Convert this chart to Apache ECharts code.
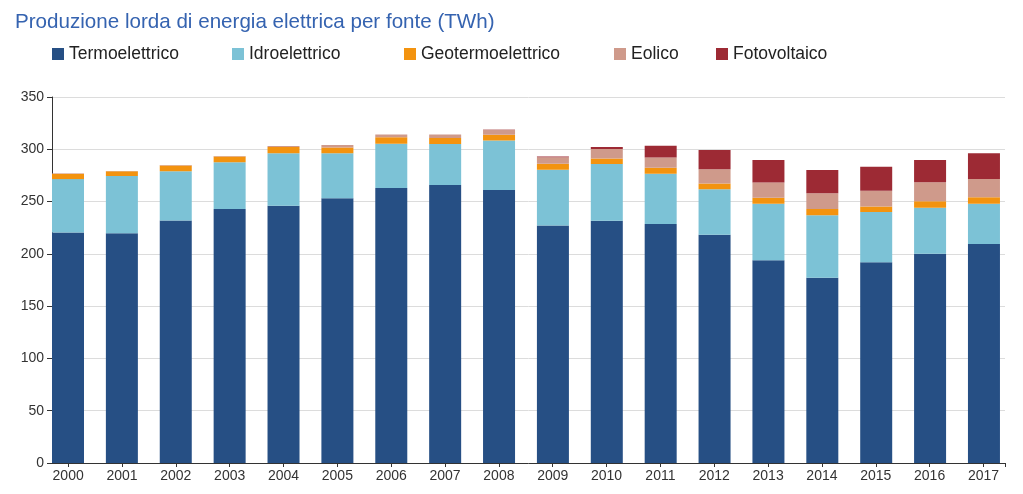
<!DOCTYPE html>
<html>
<head>
<meta charset="utf-8">
<script src="https://cdn.jsdelivr.net/npm/echarts@6/dist/echarts.min.js"></script>
<style>
html,body{margin:0;padding:0;background:#fff;}
#chart{width:1023px;height:494px;}
</style>
</head>
<body>
<div id="chart"></div>
<script>
const years = ['2000','2001','2002','2003','2004','2005','2006','2007','2008','2009','2010','2011','2012','2013','2014','2015','2016','2017'];
const termoelettrico = [220.5,219.6,232.0,242.8,246.0,253.1,262.9,265.8,261.0,227.2,231.6,228.5,218.3,193.8,177.2,191.9,200.1,209.4];
const idroelettrico  = [51.0,54.8,46.9,44.7,50.1,43.0,42.4,39.2,47.5,53.2,54.3,48.1,43.4,54.1,59.6,48.1,44.0,38.6];
const geotermoelettrico = [5.0,4.5,5.5,5.5,6.2,5.7,6.1,5.7,5.5,5.7,5.4,5.7,5.7,5.7,6.1,5.4,6.1,6.1];
const eolico = [0.5,0.3,0.5,0.5,0.8,2.2,2.8,3.5,4.8,6.3,8.9,9.9,13.4,14.7,15.0,15.0,18.2,17.5];
const fotovoltaico = [0,0,0,0,0,0,0,0,0.2,0.7,2.0,11.2,18.5,21.4,22.3,22.9,21.4,24.5];

const names = ['Termoelettrico','Idroelettrico','Geotermoelettrico','Eolico','Fotovoltaico'];
const values = [termoelettrico, idroelettrico, geotermoelettrico, eolico, fotovoltaico];
const colors = ['#264f84','#7cc2d6','#f3930f','#cf9a8b','#9d2a34'];
const legendLeft = [47,227,399,609,711];

const chart = echarts.init(document.getElementById('chart'), null, {renderer:'canvas'});
const font = 'Liberation Sans, Arial, sans-serif';

const idx = years.map((y,i)=>i);
const option = {
  animation: false,
  backgroundColor: '#fff',
  title: {
    text: 'Produzione lorda di energia elettrica per fonte (TWh)',
    left: 10, top: 7,
    textStyle: {color:'#3563b0', fontSize: 20.6, fontWeight: 'normal', fontFamily: font}
  },
  legend: names.map((n,i)=>({
    data:[n], left: legendLeft[i], top: 40,
    itemWidth: 12, itemHeight: 12, icon: 'rect',
    textStyle:{color:'#222', fontSize:17.5, fontFamily:font},
    selectedMode:false
  })),
  grid: [
    {left:52, right:18, top:97, bottom:31, containLabel:false},
    {left:41.06, right:12.1, top:97, bottom:31, containLabel:false}
  ],
  xAxis: [
    {
      type:'value', gridIndex:0, min:-0.3, max:17.4,
      splitLine:{show:false},
      axisLine:{show:true, onZero:false, lineStyle:{color:'#333', width:1}},
      axisTick:{show:true, length:4, customValues: idx.concat([17.4]), lineStyle:{color:'#333'}},
      axisLabel:{customValues: idx, formatter: v => years[Math.round(v)], color:'#333', fontSize:14, fontFamily:font, margin:6}
    },
    {
      type:'category', gridIndex:1, data: years, boundaryGap:true,
      show:false
    }
  ],
  yAxis: [
    {
      type:'value', gridIndex:0, min:0, max:350, interval:50,
      axisLine:{show:true, onZero:false, lineStyle:{color:'#333', width:1}},
      axisTick:{show:true, length:5, lineStyle:{color:'#333'}},
      axisLabel:{color:'#333', fontSize:14, fontFamily:font, margin:8},
      splitLine:{show:true, lineStyle:{color:'#dcdcdc', width:1}}
    },
    {
      type:'value', gridIndex:1, min:0, max:350, interval:50, show:false,
      splitLine:{show:false}
    }
  ],
  series: names.map((n,i)=>({
    name:n, type:'bar', stack:'tot', barWidth:32,
    xAxisIndex:1, yAxisIndex:1,
    itemStyle:{color:colors[i]},
    data: values[i]
  }))
};
chart.setOption(option);
</script>
</body>
</html>
